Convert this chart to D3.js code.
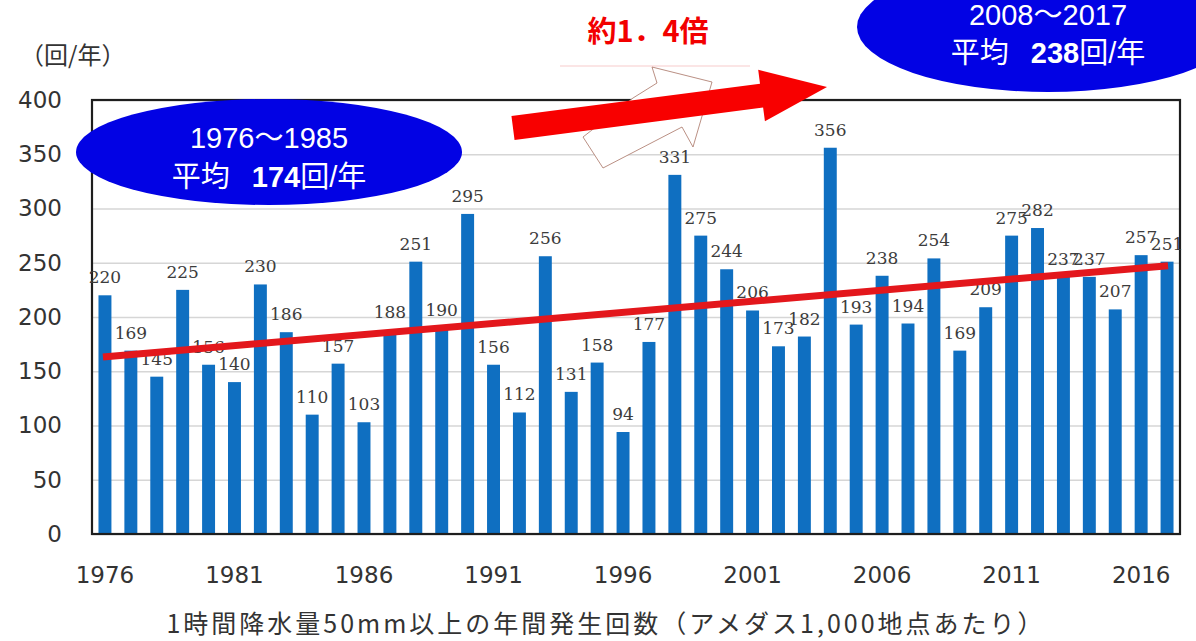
<!DOCTYPE html>
<meta charset="utf-8">
<style>
body{margin:0;background:#fff;}
svg{display:block;}
.axis text{font-family:"DejaVu Sans";font-size:23px;fill:#333;}
.axis path{display:none;}
.grid line{stroke:#d6d6d6;stroke-width:1.5px;}
.grid path,.grid text{display:none;}
.lbl{font-family:"DejaVu Serif";font-size:17px;fill:#3c3c3c;text-anchor:middle;}
.jp{font-family:"Noto Sans CJK JP";fill:#333;}
.oval text{font-family:"Liberation Sans","Noto Sans CJK JP";font-size:29px;fill:#fff;text-anchor:middle;}
</style>
<body>
<script src="https://cdn.jsdelivr.net/npm/d3@7"></script>
<script>

// 1時間降水量50mm以上の年間発生回数
var years=d3.range(1976,2018);
var counts=[220,169,145,225,156,140,230,186,110,157,
	103,188,251,190,295,156,112,256,131,158,
	94,177,331,275,244,206,173,182,356,193,
	238,194,254,169,209,275,282,237,237,207,
	257,251];
var yTicks=[0,50,100,150,200,250,300,350,400];
var xTickYears=[1976,1981,1986,1991,1996,2001,2006,2011,2016];
var periodFrom=[1976,2008];
var periodTo=[1985,2017];
var periodAvg=[174,238];
var ratioText="約1．4倍";
var unitText="（回/年）";
var xTitle="1時間降水量50mm以上の年間発生回数（アメダス1,000地点あたり）";

var W=1196,H=641;
var m={top:100,right:16,bottom:107,left:92};

var svg=d3.select("body").append("svg").attr("width",W).attr("height",H);

var x=d3.scaleBand().domain(years).range([m.left,W-m.right]).paddingInner(0.5).paddingOuter(0.25);
var y=d3.scaleLinear().domain([0,400]).range([H-m.bottom,m.top]);

// grid
svg.append("g").attr("class","grid")
	.attr("transform","translate("+m.left+",0)")
	.call(d3.axisLeft(y).tickValues(yTicks).tickSize(-(W-m.left-m.right)).tickFormat(""));

// bars
svg.append("g").selectAll("rect").data(counts).enter().append("rect")
	.attr("x",(d,i)=>x(years[i]))
	.attr("y",d=>y(d))
	.attr("width",x.bandwidth())
	.attr("height",d=>y(0)-y(d))
	.attr("fill","#0f6fc1");

// frame
svg.append("rect").attr("x",m.left).attr("y",m.top)
	.attr("width",W-m.left-m.right).attr("height",H-m.top-m.bottom)
	.attr("fill","none").attr("stroke","#1e1e1e").attr("stroke-width",2.2);

// axes
svg.append("g").attr("class","axis")
	.attr("transform","translate("+m.left+",0)")
	.call(d3.axisLeft(y).tickValues(yTicks).tickSize(0).tickPadding(30));
svg.append("g").attr("class","axis")
	.attr("transform","translate(0,"+(H-m.bottom)+")")
	.call(d3.axisBottom(x).tickValues(xTickYears).tickSize(0).tickPadding(33));

// value labels
svg.append("g").selectAll("text").data(counts).enter().append("text")
	.attr("class","lbl")
	.attr("x",(d,i)=>x(years[i])+x.bandwidth()/2)
	.attr("y",d=>y(d)-12)
	.text(d=>d);

// linear trend (least squares)
var n=counts.length;
var mx=d3.mean(years),my=d3.mean(counts);
var sxy=d3.sum(years,(t,i)=>(t-mx)*(counts[i]-my));
var sxx=d3.sum(years,t=>(t-mx)*(t-mx));
var slope=sxy/sxx,icpt=my-slope*mx;
var ends=[years[0],years[n-1]];
svg.append("line")
	.attr("x1",x(ends[0])+x.bandwidth()/2-2).attr("y1",y(slope*ends[0]+icpt))
	.attr("x2",x(ends[1])+x.bandwidth()/2+1).attr("y2",y(slope*ends[1]+icpt))
	.attr("stroke","#e3171c").attr("stroke-width",7);

// unit + x title
svg.append("text").attr("class","jp").attr("x",20).attr("y",64)
	.style("font-size","24px").text(unitText);
svg.append("text").attr("class","jp").attr("x",606).attr("y",633)
	.attr("text-anchor","middle").style("font-size","25px").style("letter-spacing","3px")
	.text(xTitle);

// faded outline arrow behind the ratio label
svg.append("polygon")
	.attr("points",[[652,67],[712,82],[693,147],[682,127],[603,168],[583,137],[633,98],[657,83]].join(" "))
	.attr("fill","#fff").attr("stroke","#a87464").attr("stroke-width",0.8);
svg.append("rect").attr("x",530).attr("y",0).attr("width",235).attr("height",65).attr("fill","#fff");
svg.append("line").attr("x1",560).attr("x2",750).attr("y1",66).attr("y2",66)
	.attr("stroke","#f08080").attr("stroke-width",2).attr("opacity",0.2);
svg.append("text").attr("x",648).attr("y",42).attr("text-anchor","middle")
	.style("font-family","Noto Sans CJK JP").style("font-weight","bold").style("font-size","29px")
	.attr("fill","#f20000").text(ratioText);

// period ovals
var ovals=[{cx:269,cy:152,rx:193,ry:53,t1:138,t2:177},{cx:1048,cy:27,rx:191,ry:65,t1:15,t2:53}];
ovals.forEach(function(o,i){
	var g=svg.append("g").attr("class","oval");
	g.append("ellipse").attr("cx",o.cx).attr("cy",o.cy).attr("rx",o.rx).attr("ry",o.ry).attr("fill","#0202e4");
	g.append("text").attr("x",o.cx).attr("y",o.t1+10).text(periodFrom[i]+"～"+periodTo[i]);
	var t=g.append("text").attr("x",o.cx).attr("y",o.t2+10);
	t.append("tspan").text("平均");
	t.append("tspan").attr("dx",22).style("font-weight","bold").text(periodAvg[i]);
	t.append("tspan").text("回/年");
});

// red arrow
var a0=[513,128],a1=[827,87];
var dx=a1[0]-a0[0],dy=a1[1]-a0[1],L=Math.hypot(dx,dy);
var ux=dx/L,uy=dy/L,px=-uy,py=ux;
var sw=12,hw=26,hl=66;
function pt(s,o){return [a0[0]+ux*s+px*o,a0[1]+uy*s+py*o];}
svg.append("polygon")
	.attr("points",[pt(0,-sw),pt(L-hl,-sw),pt(L-hl,-hw),pt(L,0),pt(L-hl,hw),pt(L-hl,sw),pt(0,sw)].join(" "))
	.attr("fill","#f80000");

</script>
</body>
